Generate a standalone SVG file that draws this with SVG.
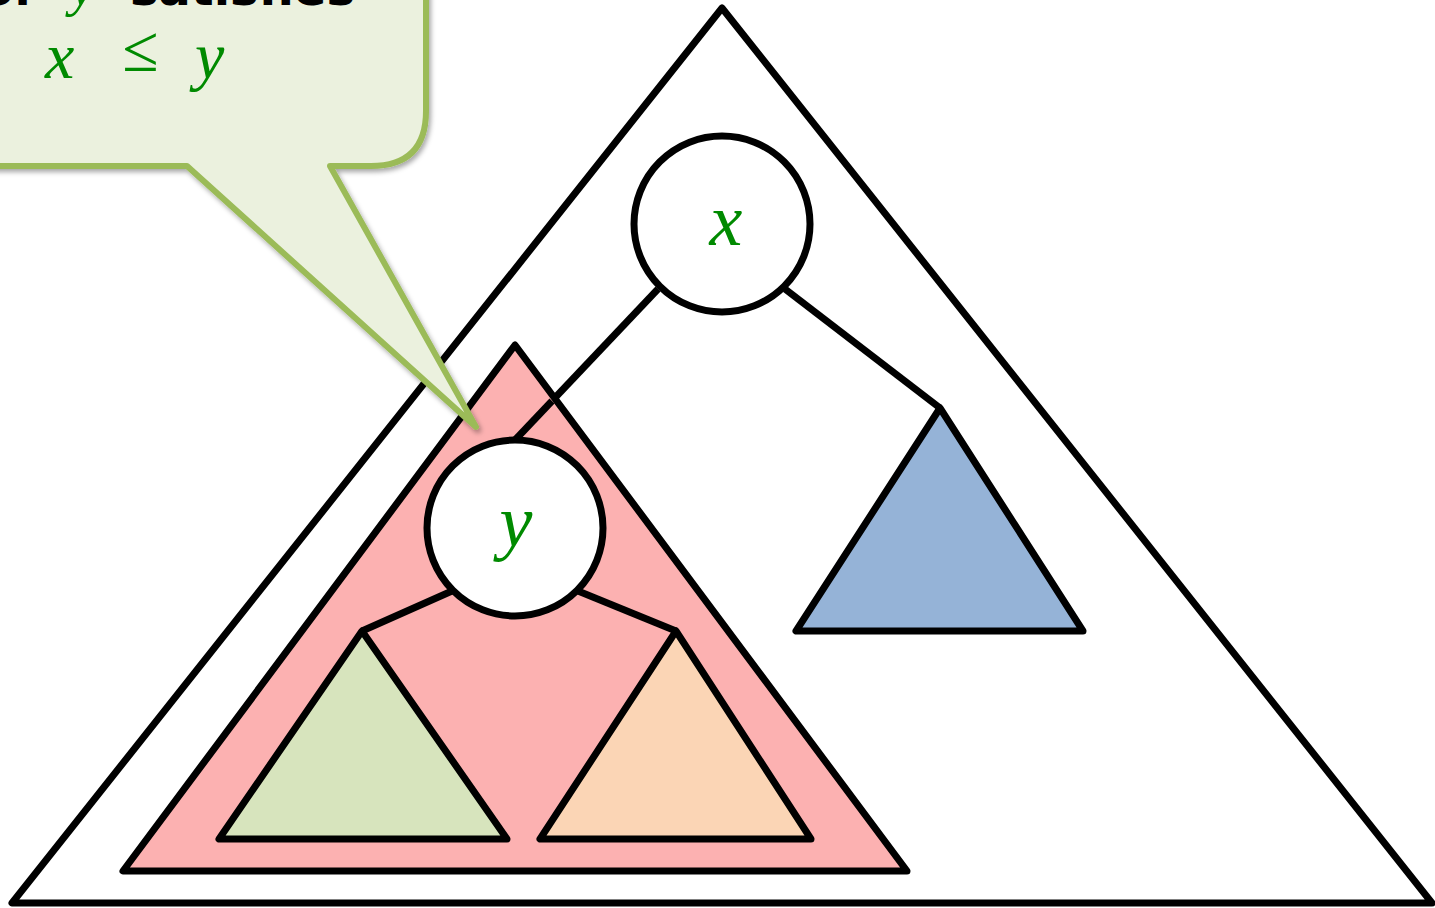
<svg xmlns="http://www.w3.org/2000/svg" width="1435" height="908" viewBox="0 0 1435 908">
<defs>
<style>
.tri{stroke:#000;stroke-width:7;stroke-linejoin:round}
.edge{stroke:#000;stroke-width:7;fill:none}
.node{fill:#fff;stroke:#000;stroke-width:7}
.var{font-family:"Liberation Serif",serif;font-style:italic;fill:#008a00}
.txt{font-family:"DejaVu Sans",sans-serif;font-weight:bold;fill:#000}
</style>
<filter id="sh" x="-20%" y="-20%" width="140%" height="140%">
<feDropShadow dx="2" dy="3" stdDeviation="2.5" flood-color="#000" flood-opacity="0.35"/>
</filter>
</defs>
<g id="outer"><polygon class="tri" fill="#fff" points="722,8 12,903 1432,903"/></g>
<g id="connectors">
<line class="edge" x1="658" y1="289" x2="515" y2="440"/>
<line class="edge" x1="785" y1="289" x2="940" y2="408"/>
</g>
<g id="blue"><polygon class="tri" fill="#95b3d7" points="940,408 796,631 1083,631"/></g>
<g id="pink"><polygon class="tri" fill="#fcb1b1" points="515,345 123,871 907,871"/></g>
<g id="connectors2">
<line class="edge" x1="515" y1="440" x2="552" y2="401"/>
<line class="edge" x1="452" y1="591" x2="362" y2="631"/>
<line class="edge" x1="578" y1="591" x2="676" y2="631"/>
</g>
<g id="green"><polygon class="tri" fill="#d7e4bd" points="362,631 219,839 507,839"/></g>
<g id="orange"><polygon class="tri" fill="#fbd5b5" points="676,631 540,839 811,839"/></g>
<g id="node-x"><circle class="node" cx="722" cy="224" r="88"/><text class="var" x="726" y="245" font-size="74" text-anchor="middle">x</text></g>
<g id="node-y"><circle class="node" cx="515" cy="528" r="88"/><text class="var" x="516" y="546" font-size="74" text-anchor="middle">y</text></g>
<g id="callout">
<path filter="url(#sh)" fill="#ebf1de" stroke="#9bbb59" stroke-width="6" stroke-linejoin="round" d="M-20,-20 H426 V111 Q426,166 371,166 H330 L476,427 L187,166 H-20 Z"/>
<text class="txt" x="34" y="5" font-size="47" text-anchor="end">of</text>
<text class="var" x="70" y="5" font-size="56">y</text>
<text class="txt" x="130" y="5" font-size="47" textLength="225" lengthAdjust="spacingAndGlyphs">satisfies</text>
<text class="var" x="45" y="78" font-size="66">x</text>
<text class="var" x="122" y="71" font-size="66">≤</text>
<text class="var" x="195" y="78" font-size="66">y</text>
</g>
</svg>
